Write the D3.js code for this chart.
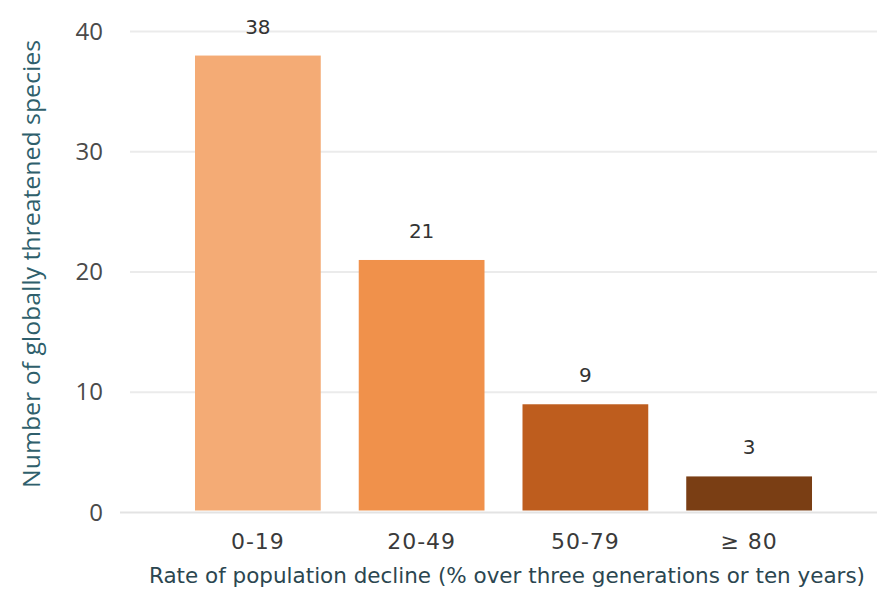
<!DOCTYPE html>
<html>
<head>
<meta charset="utf-8">
<script src="https://cdn.jsdelivr.net/npm/d3@7"></script>
<style>
  html, body { margin: 0; padding: 0; background: #ffffff; }
  svg { display: block; }
</style>
</head>
<body>
<svg id="chart" width="877" height="593"></svg>
<script>
const categories = ["0-19", "20-49", "50-79", "≥ 80"];
const values = [38, 21, 9, 3];
const barColors = ["#F4AB75", "#F0914B", "#BE5D1E", "#7A3E14"];
const yTicks = [0, 10, 20, 30, 40];
const yTitle = "Number of globally threatened species";
const xTitle = "Rate of population decline (% over three generations or ten years)";

const svg = d3.select("#chart");
const W = 877, H = 593;

const x = d3.scaleBand().domain(categories).range([157, 850]).paddingInner(0.232).paddingOuter(0.232);
const y = d3.scaleLinear().domain([0, 40]).range([512.5, 31.5]);

const dejavu = "'DejaVu Sans', sans-serif";
const regular = "'Open Sans', 'Noto Sans', sans-serif";

// gridlines
svg.append("g")
  .selectAll("line")
  .data(yTicks.filter(d => d > 0))
  .join("line")
  .attr("x1", 130).attr("x2", W)
  .attr("y1", d => y(d)).attr("y2", d => y(d))
  .attr("stroke", "#ebebeb").attr("stroke-width", 2);

// baseline
svg.append("line")
  .attr("x1", 120).attr("x2", W)
  .attr("y1", y(0)).attr("y2", y(0))
  .attr("stroke", "#e3e3e3").attr("stroke-width", 2);

// y axis
const yAxis = d3.axisLeft(y).tickValues(yTicks).tickSize(0).tickPadding(0);
const gy = svg.append("g").attr("transform", "translate(103,0)").call(yAxis);
gy.select(".domain").remove();
gy.selectAll("text")
  .attr("font-family", regular).attr("font-size", 24)
  .attr("fill", "#4a4a4a");

// bars
svg.append("g")
  .selectAll("rect")
  .data(values)
  .join("rect")
  .attr("x", (d, i) => x(categories[i]))
  .attr("width", x.bandwidth())
  .attr("y", d => y(d))
  .attr("height", d => y(0) - y(d) - 2)
  .attr("fill", (d, i) => barColors[i]);

// value labels
svg.append("g")
  .selectAll("text")
  .data(values)
  .join("text")
  .attr("x", (d, i) => x(categories[i]) + x.bandwidth() / 2)
  .attr("y", d => y(d) - 22)
  .attr("text-anchor", "middle")
  .attr("font-family", dejavu).attr("font-size", 20)
  .attr("fill", "#333333")
  .text(d => d);

// x axis
const xAxis = d3.axisBottom(x).tickSize(0).tickPadding(0);
const gx = svg.append("g").attr("transform", "translate(0,549)").call(xAxis);
gx.select(".domain").remove();
gx.selectAll("text")
  .attr("dy", 0)
  .attr("font-family", dejavu).attr("font-size", 22)
  .attr("letter-spacing", 1)
  .attr("fill", "#3a3a3a");

// axis titles
svg.append("text")
  .attr("transform", "translate(40,264) rotate(-90)")
  .attr("text-anchor", "middle")
  .attr("font-family", regular).attr("font-size", 23)
  .attr("textLength", 448).attr("lengthAdjust", "spacingAndGlyphs")
  .attr("fill", "#2f5f6c")
  .text(yTitle);

svg.append("text")
  .attr("x", 507).attr("y", 583)
  .attr("text-anchor", "middle")
  .attr("font-family", dejavu).attr("font-size", 21)
  .attr("textLength", 716).attr("lengthAdjust", "spacingAndGlyphs")
  .attr("fill", "#2b4650")
  .text(xTitle);
</script>
</body>
</html>
